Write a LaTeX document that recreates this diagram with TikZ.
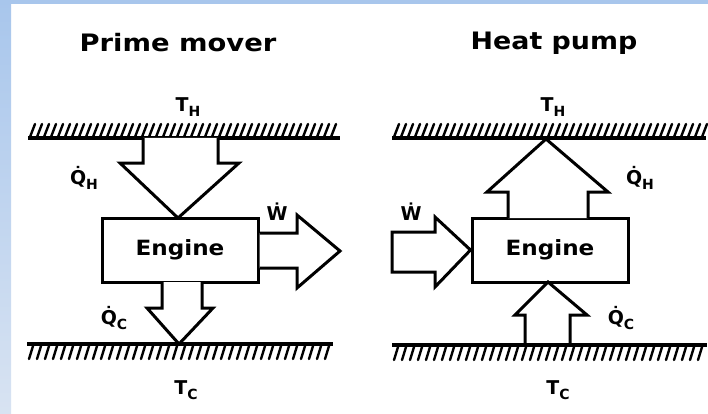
\documentclass[tikz,border=0pt]{standalone}
\usepackage{fontspec}
\setmainfont{DejaVu Sans}
\usepackage{graphicx}
\definecolor{blueA}{RGB}{168,198,236}
\definecolor{blueB}{RGB}{216,227,242}
\newcommand{\sublbl}[2]{#1\raisebox{-0.5ex}{\fontsize{14}{14}\selectfont #2}}
\begin{document}
\begin{tikzpicture}[x=1pt,y=-1pt,
  title/.style={font=\fontsize{24}{24}\selectfont\bfseries, inner sep=0pt},
  lbl/.style={font=\fontsize{19}{19}\selectfont\bfseries, inner sep=0pt},
  enginebox/.style={draw, line width=3pt, fill=white, minimum width=156pt, minimum height=64pt, inner sep=0pt, font=\fontsize{21}{21}\selectfont\bfseries},
  blockarrow/.style={draw, line width=3pt, line join=miter, fill=white},
  ground/.style={line width=3.5pt},
  hatch/.style={line width=2.4pt, line cap=round}]
% background and frame
\useasboundingbox (0,0) rectangle (708,414);
\fill[white] (0,0) rectangle (708,414);
\shade[top color=blueA, bottom color=blueB] (0,0) rectangle (11,414);
\fill[blueA] (0,0) rectangle (708,4);

% ===== Prime mover =====
\node[title] (t1) at (178,43) {\scalebox{1.14}[1]{Prime mover}};
\node[lbl] (th1) at (188,107) {\sublbl{T}{H}};
\draw[ground] (28,138) coordinate (g1a) -- (340,138) coordinate (g1b);
\foreach \x in {30,37,...,336} \draw[hatch] (\x,137) -- ++(5,-13);
% Q_H arrow
\draw[blockarrow] (143,138) -- (143,163) -- (120,163) -- (178,218) -- (239,163) -- (218,163) -- (218,138);
\node[enginebox] (e1) at (180,250) {\scalebox{1.1}[1]{Engine}};
% W arrow out
\draw[blockarrow] (e1.east |- 0,233) -- (297,233) -- (297,215) -- (340,251) -- (297,288) -- (297,268) -- (e1.east |- 0,268);
% Q_C arrow
\draw[blockarrow] (162,282) -- (162,308) -- (147,308) -- (179,344) -- (213,308) -- (202,308) -- (202,282);
\draw[ground] (27,344) coordinate (g2a) -- (333,344) coordinate (g2b);
\foreach \x in {33,41,...,333} \draw[hatch] (\x,346) -- ++(-4,13);
\node[lbl] (qh1) at (84,178) {\sublbl{\.{Q}}{H}};
\node[lbl] (w1) at (277,212) {\.{W}};
\node[lbl] (qc1) at (114,318) {\sublbl{\.{Q}}{C}};
\node[lbl] (tc1) at (186,390) {\sublbl{T}{C}};

% ===== Heat pump =====
\node[title] (t2) at (554,43) {\scalebox{1.12}[1]{Heat pump}};
\node[lbl] (th2) at (553,107) {\sublbl{T}{H}};
\draw[ground] (392,138) coordinate (g3a) -- (706,138) coordinate (g3b);
\foreach \x in {394,401,...,702} \draw[hatch] (\x,137) -- ++(5,-13);
% Q_H arrow up
\node[enginebox] (e2) at (550,250) {\scalebox{1.1}[1]{Engine}};
\draw[blockarrow] (508,218) -- (508,192) -- (487,192) -- (546,139) -- (608,192) -- (588,192) -- (588,218);
% W arrow in
\draw[blockarrow] (e2.west) -- (435,287) -- (435,272) -- (392,272) -- (392,232) -- (435,232) -- (435,217) -- cycle;
% Q_C arrow up
\draw[blockarrow] (525,344) -- (525,315) -- (515,315) -- (548,282) -- (587,315) -- (570,315) -- (570,344);
\draw[ground] (392,345) coordinate (g4a) -- (707,345) coordinate (g4b);
\foreach \x in {398,406,...,706} \draw[hatch] (\x,347) -- ++(-4,13);
\node[lbl] (w2) at (411,212) {\.{W}};
\node[lbl] (qh2) at (640,178) {\sublbl{\.{Q}}{H}};
\node[lbl] (qc2) at (621,318) {\sublbl{\.{Q}}{C}};
\node[lbl] (tc2) at (558,390) {\sublbl{T}{C}};
\end{tikzpicture}
\end{document}
